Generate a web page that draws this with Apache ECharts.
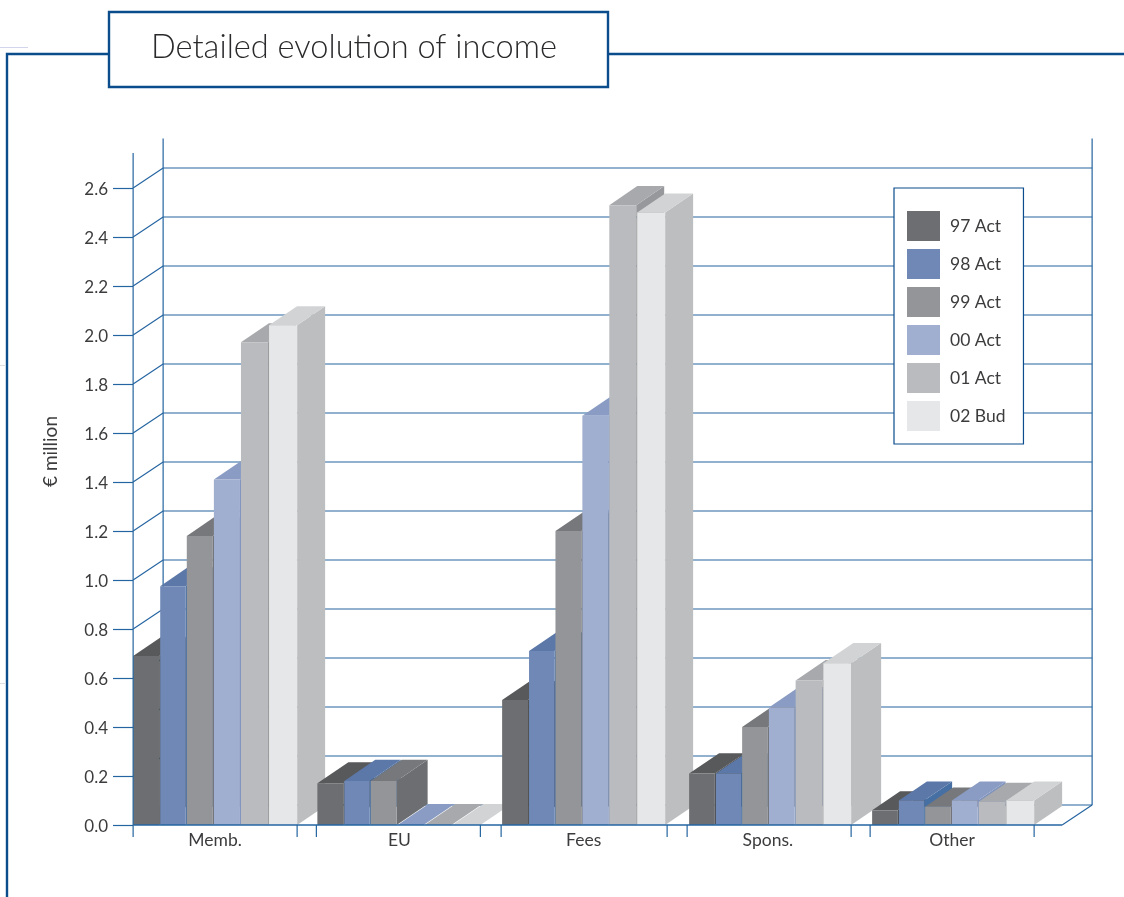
<!DOCTYPE html>
<html>
<head>
<meta charset="utf-8">
<title>Detailed evolution of income</title>
<style>html,body{margin:0;padding:0;background:#fff}#chart{width:1124px;height:897px}</style>
<script src="https://cdn.jsdelivr.net/npm/echarts@6/dist/echarts.min.js"></script>
</head>
<body>
<div id="chart"></div>
<script>
const categories = ['Memb.', 'EU', 'Fees', 'Spons.', 'Other'];
const seriesNames = ['97 Act', '98 Act', '99 Act', '00 Act', '01 Act', '02 Bud'];
const act97 = [0.69, 0.17, 0.51, 0.21, 0.06];
const act98 = [0.975, 0.18, 0.71, 0.21, 0.10];
const act99 = [1.18, 0.18, 1.20, 0.40, 0.075];
const act00 = [1.41, 0, 1.67, 0.48, 0.10];
const act01 = [1.97, 0, 2.53, 0.59, 0.095];
const bud02 = [2.04, 0, 2.50, 0.66, 0.10];
const yTicks = [0, 0.2, 0.4, 0.6, 0.8, 1.0, 1.2, 1.4, 1.6, 1.8, 2.0, 2.2, 2.4, 2.6];
const frontColors = ['#6d6e71', '#6f88b6', '#939598', '#a0aed0', '#b9bbbe', '#e6e7e8'];
const topColors = ['#58595b', '#5b78a8', '#77787b', '#8a9cc4', '#a7a9ac', '#d1d3d4'];
const sideColors = ['#4b4c4e', '#466fa3', '#6d6e71', '#7f93bd', '#97989b', '#bcbec0'];
const allValues = [act97, act98, act99, act00, act01, bud02];

const LINE = '#2464a0', FRAME = '#0b4c8c';
const WALL_DX = 30, WALL_DY = 20;
const GROUP_W = 164, BASE_DX = 28;
const BAR_DX = [28, 31, 28, 30, 28];
const BAR_STEPS = [0, 27, 53.5, 80.5, 107.5, 135.5, 163.5];
const INSET_L = [0, 0, 0.5, 3.25, 2], INSET_R = [0, 1, 0.5, -1.25, 0];
const TICK_L = [0, -1, -0.5, 1.25, 0], TICK_R = [0, -1, 1.5, 1.25, 0];
const AXIS_TOP = 2.743, WALL_TOP = 2.72;

function barItem(s) {
  return function (params, api) {
    const c = api.value(0), v = api.value(1);
    const center = api.coord([c, v]);
    const base = api.coord([c, 0]);
    const left = center[0] - GROUP_W / 2 + INSET_L[c];
    const w = GROUP_W - INSET_L[c] - INSET_R[c];
    const k = w / BAR_STEPS[6];
    const x0 = left + BAR_STEPS[s] * k;
    const x1 = left + BAR_STEPS[s + 1] * k - (s < 5 ? 1 : 0);
    const dx = BAR_DX[c], dy = dx * 0.68;
    const yt = center[1], yb = base[1];
    const z = c * 10 + s + 1;
    return {
      type: 'group',
      children: [
        { type: 'polygon', z2: z, shape: { points: [[x1, yb], [x1 + dx, yb - dy], [x1 + dx, yt - dy], [x1, yt]] }, style: { fill: sideColors[s] } },
        { type: 'polygon', z2: z, shape: { points: [[x0, yt], [x0 + dx, yt - dy], [x1 + dx, yt - dy], [x1, yt]] }, style: { fill: topColors[s] } },
        { type: 'rect', z2: z, shape: { x: x0, y: yt, width: x1 - x0, height: yb - yt }, style: { fill: frontColors[s] } }
      ]
    };
  };
}

function line(x1, y1, x2, y2, z2, w) {
  return { type: 'line', z2: z2 || 0, shape: { x1, y1, x2, y2 }, style: { stroke: LINE, lineWidth: w || 1.2 } };
}

function wallItem(params, api) {
  const v = api.value(1);
  const origin = api.coord([0, 0]);
  const y = api.coord([0, v])[1];
  const xl = origin[0] - GROUP_W / 2;
  const band = api.size([1, 0])[0];
  const lastRight = xl + band * (categories.length - 1) + GROUP_W + BASE_DX;
  const backR = lastRight + WALL_DX;
  const children = [];
  if (v > 0) {
    children.push(line(xl, y, xl + WALL_DX, y - WALL_DY));
    children.push(line(xl + WALL_DX, y - WALL_DY, backR, y - WALL_DY));
  }
  if (params.dataIndex === 0) {
    const yb = origin[1];
    const yWall = api.coord([0, WALL_TOP])[1] - WALL_DY;
    const yAxisTop = api.coord([0, AXIS_TOP])[1];
    children.push(line(xl + WALL_DX, yb - WALL_DY, xl + WALL_DX, yWall));
    children.push(line(backR, yb - WALL_DY, backR, yWall));
    children.push(line(xl + WALL_DX, yb - WALL_DY, backR, yb - WALL_DY));
    children.push(line(lastRight, yb, backR, yb - WALL_DY));
    children.push(line(xl, yb, xl, yAxisTop, 1000));
    children.push(line(xl, yb, lastRight, yb, 1000, 1.4));
    categories.forEach(function (name, i) {
      const a = xl + band * i;
      children.push(line(a + TICK_L[i], yb, a + TICK_L[i], yb + 12, 1000));
      children.push(line(a + GROUP_W + TICK_R[i], yb, a + GROUP_W + TICK_R[i], yb + 12, 1000));
    });
  }
  return { type: 'group', children };
}

const series = [{
  type: 'custom', name: 'wall', z: 2, silent: true,
  renderItem: wallItem,
  encode: { x: 0, y: 1 },
  data: yTicks.map(function (v) { return [0, v]; })
}].concat(seriesNames.map(function (name, s) {
  return {
    type: 'custom', name: name, z: 2,
    itemStyle: { color: frontColors[s] },
    renderItem: barItem(s),
    encode: { x: 0, y: 1 },
    data: allValues[s].map(function (v, i) { return [i, v]; })
  };
}));

const chart = echarts.init(document.getElementById('chart'), null, { renderer: 'canvas' });
const FONT = 'Lato';
const TEXT = '#3c3c3e';
chart.setOption({
  animation: false,
  backgroundColor: '#ffffff',
  textStyle: { fontFamily: FONT },
  title: {
    text: 'Detailed evolution of income',
    left: 146, top: 26,
    textStyle: { fontFamily: FONT, fontSize: 32.6, fontWeight: 300, color: '#2a2a2c' }
  },
  legend: {
    orient: 'vertical', left: 894, top: 188,
    data: seriesNames, selectedMode: false,
    icon: 'rect', itemWidth: 33, itemHeight: 30, itemGap: 8, itemStyle: { borderWidth: 0 },
    padding: [23, 18, 13, 13],
    backgroundColor: '#fff', borderColor: FRAME, borderWidth: 1.2,
    textStyle: { fontFamily: FONT, fontSize: 17.5, color: TEXT, padding: [0, 0, 5, 5] }
  },
  grid: { left: 123, width: 921.25, top: 188, height: 637, containLabel: false },
  xAxis: {
    type: 'category', data: categories,
    axisLine: { show: false }, axisTick: { show: false }, splitLine: { show: false },
    axisLabel: { fontFamily: FONT, fontSize: 17.5, color: TEXT, margin: 6 }
  },
  yAxis: {
    type: 'value', min: 0, max: 2.6, interval: 0.2, offset: -10,
    name: '€ million', nameLocation: 'middle', nameRotate: 90, nameGap: 73,
    nameTextStyle: { fontFamily: FONT, fontSize: 19, color: TEXT, padding: [0, 0, 0, 110] },
    axisLine: { show: false },
    axisTick: { show: true, length: 20, lineStyle: { color: LINE, width: 1.2 } },
    splitLine: { show: false },
    axisLabel: { fontFamily: FONT, fontSize: 17, color: TEXT, margin: 25, verticalAlign: 'top', lineHeight: 4, formatter: function (v) { return v.toFixed(1); } }
  },
  graphic: [
    { type: 'polyline', shape: { points: [[7, 897], [7, 54], [109, 54]] }, style: { stroke: FRAME, lineWidth: 2.4, fill: null } },
    { type: 'line', shape: { x1: 608, y1: 54, x2: 1124, y2: 54 }, style: { stroke: FRAME, lineWidth: 2.4 } },
    { type: 'rect', shape: { x: 109, y: 12, width: 499, height: 75 }, style: { fill: '#fff', stroke: FRAME, lineWidth: 2.4 } },
    { type: 'line', shape: { x1: 0, y1: 47.5, x2: 28, y2: 47.5 }, style: { stroke: '#d3d6ea', lineWidth: 1 } },
    { type: 'line', shape: { x1: 0, y1: 365.5, x2: 6, y2: 365.5 }, style: { stroke: '#dcdde3', lineWidth: 1 } },
    { type: 'line', shape: { x1: 0, y1: 683.5, x2: 6, y2: 683.5 }, style: { stroke: '#dcdde3', lineWidth: 1 } }
  ],
  series: series
});
</script>
</body>
</html>
